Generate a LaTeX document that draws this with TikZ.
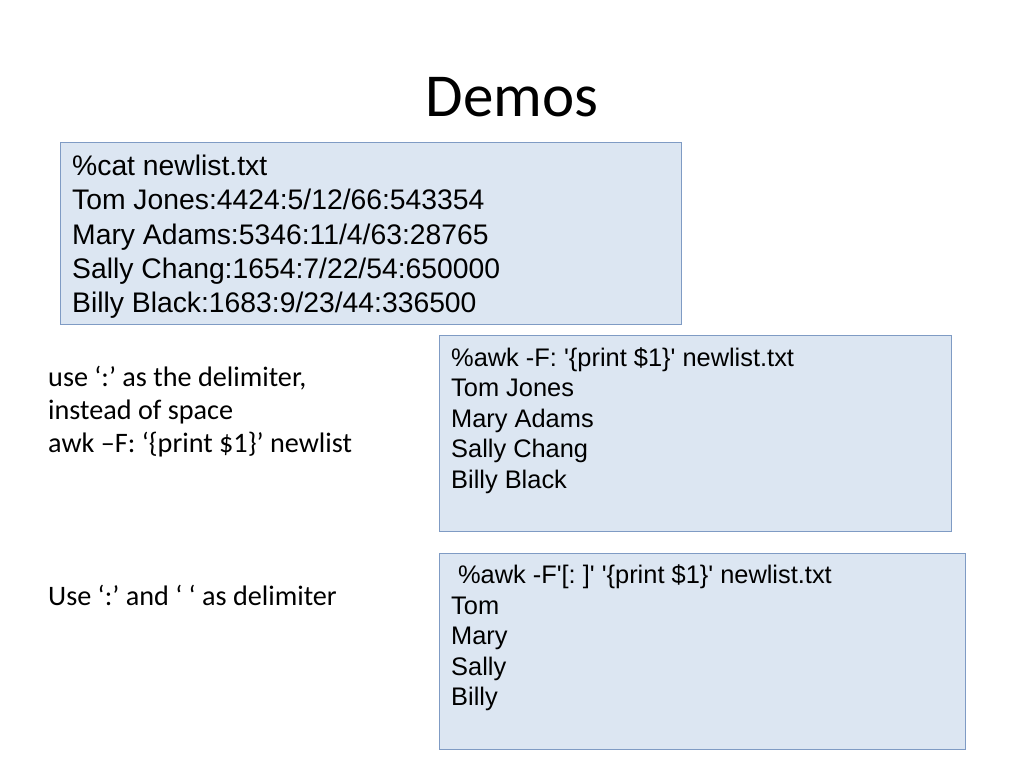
\documentclass[tikz,border=0pt]{standalone}
\usepackage{fontspec}
\setmainfont{Liberation Sans}[Ligatures=TeXOff]
\newfontfamily\calib{Carlito}
\definecolor{boxfill}{HTML}{DCE6F2}
\definecolor{boxline}{HTML}{7F9BC4}
\frenchspacing
\begin{document}
\begin{tikzpicture}[x=1pt,y=-1pt,
  codebox/.style={draw=boxline,fill=boxfill,line width=1.3pt,inner sep=0,anchor=north west},
  bigcode/.style={anchor=north west,inner sep=0,align=left,font=\fontsize{28.3}{34.2}\selectfont},
  smallcode/.style={anchor=north west,inner sep=0,align=left,font=\fontsize{25.4}{30.6}\selectfont},
  note/.style={anchor=north west,inner sep=0,align=left,font=\calib\fontsize{28.2}{33}\selectfont}]
\useasboundingbox[fill=white] (0,0) rectangle (1024,768);
\node[font=\calib\fontsize{61}{70}\selectfont,inner sep=0] (title) at (512,97) {Demos};
\node[codebox,minimum width=621pt,minimum height=182pt] (box1) at (60,142) {};
\node[bigcode] (t1) at (72,155) {\%cat newlist.txt\\Tom Jones:4424:5/12/66:543354\\Mary Adams:5346:11/4/63:28765\\Sally Chang:1654:7/22/54:650000\\Billy Black:1683:9/23/44:336500};
\node[codebox,minimum width=512pt,minimum height=196pt] (box2) at (439,335) {};
\node[smallcode] (t2) at (451,347) {\%awk -F: '\{print \$1\}' newlist.txt\\Tom Jones\\Mary Adams\\Sally Chang\\Billy Black};
\node[codebox,minimum width=526pt,minimum height=196pt] (box3) at (439,553) {};
\node[smallcode] (t3) at (451,564.5) {\hspace{0.27em}\%awk -F'[: ]' '\{print \$1\}' newlist.txt\\Tom\\Mary\\Sally\\Billy};
\node[note] (n1) at (48,366) {use ‘:’ as the delimiter,\\instead of space\\awk –F: ‘\{print \$1\}’ newlist};
\node[note] (n2) at (48,585) {Use ‘:’ and ‘ ‘ as delimiter};
\end{tikzpicture}
\end{document}
